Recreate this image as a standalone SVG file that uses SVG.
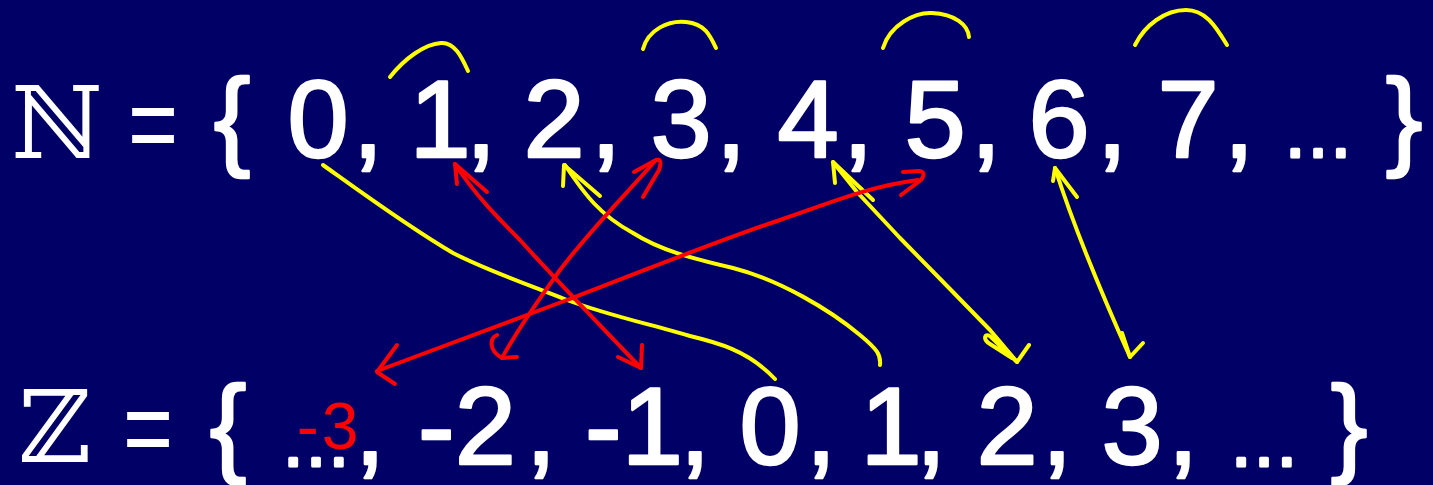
<svg xmlns="http://www.w3.org/2000/svg" width="1433" height="485" viewBox="0 0 1433 485">
<style>
.t{font-family:"Liberation Sans","DejaVu Sans",sans-serif;font-size:110px;fill:#fff;stroke:#fff;stroke-width:2.5;stroke-linejoin:round;text-anchor:middle}
.el{font-size:72px;stroke-width:3}
.eq{stroke-width:0}
.bb{font-family:"DejaVu Serif","DejaVu Sans",serif;font-size:100px;fill:#fff;text-anchor:middle}
.y{fill:none;stroke:#ffff00;stroke-width:4;stroke-linecap:round;stroke-linejoin:round}
.r{fill:none;stroke:#ff0000;stroke-width:4;stroke-linecap:round;stroke-linejoin:round}
.rt{font-family:"Liberation Sans","DejaVu Sans",sans-serif;font-size:66px;fill:#ff0000;letter-spacing:3px;text-anchor:middle}
</style>
<rect width="1433" height="485" fill="#000066"/>
<g id="row-N">
<text class="bb" x="57" y="158">ℕ</text>
<text class="t eq" transform="translate(153,0) scale(0.78,1)" x="0" y="161">=</text>
<text class="t" x="232" y="155">{</text>
<g id="n0"><text class="t" x="318" y="157">0</text></g>
<text class="t" x="368" y="157">,</text>
<g id="n1"><text class="t" x="440" y="157">1</text></g>
<text class="t" x="481" y="157">,</text>
<g id="n2"><text class="t" x="554" y="157">2</text></g>
<text class="t" x="606" y="157">,</text>
<g id="n3"><text class="t" x="681" y="157">3</text></g>
<text class="t" x="731" y="157">,</text>
<g id="n4"><text class="t" x="808" y="157">4</text></g>
<text class="t" x="858" y="157">,</text>
<g id="n5"><text class="t" x="935" y="157">5</text></g>
<text class="t" x="986" y="157">,</text>
<g id="n6"><text class="t" x="1059" y="157">6</text></g>
<text class="t" x="1112" y="157">,</text>
<g id="n7"><text class="t" x="1188" y="157">7</text></g>
<text class="t" x="1239" y="157">,</text>
<text class="t el" x="1318" y="157">…</text>
<text class="t" x="1404" y="155">}</text>
</g>
<g id="row-Z">
<text class="bb" x="55" y="462">ℤ</text>
<text class="t eq" transform="translate(148,0) scale(0.78,1)" x="0" y="465">=</text>
<text class="t" x="228" y="462">{</text>
<text class="t el" x="316" y="466">…</text>
<text class="t" x="370" y="464">,</text>
<g id="zm2"><text class="t" x="467" y="464">-2</text></g>
<text class="t" x="541" y="464">,</text>
<g id="zm1"><text class="t" x="634" y="464">-1</text></g>
<text class="t" x="695" y="464">,</text>
<g id="z0"><text class="t" x="770" y="464">0</text></g>
<text class="t" x="821" y="464">,</text>
<g id="z1"><text class="t" x="891" y="464">1</text></g>
<text class="t" x="931" y="464">,</text>
<g id="z2"><text class="t" x="1007" y="464">2</text></g>
<text class="t" x="1057" y="464">,</text>
<g id="z3"><text class="t" x="1132" y="464">3</text></g>
<text class="t" x="1183" y="464">,</text>
<text class="t el" x="1264" y="466">…</text>
<text class="t" x="1349" y="462">}</text>
</g>
<g id="annotation-m3"><text class="rt" x="329" y="449">-3</text></g>
<g id="arcs">
<path class="y" d="M390,77 C405,58 425,44 441,43 C455,42 462,58 468,71"/>
<path class="y" d="M643,49 C648,30 668,20 686,22 C705,24 710,35 716,48"/>
<path class="y" d="M883,48 C890,25 915,12 932,13 C955,14 968,25 969,37"/>
<path class="y" d="M1135,45 C1145,25 1165,10 1186,10 C1205,10 1215,25 1227,45"/>
</g>
<g id="connectors">
<path class="y" d="M323,165 C365,195 410,228 453,253 C490,272 530,285 567,300 C610,316 650,324 690,336 C715,342 748,350 775,379"/>
<path class="y" d="M565,165 C585,195 600,215 633,233 C660,250 690,258 733,268 C780,280 830,310 860,335 C878,350 881,355 880,365"/>
<path class="y" d="M563,186 L564,165 L600,196"/>
<path class="y" d="M833,162 L857,192 L900,238 L950,289 L990,330 L1017,362"/>
<path class="y" d="M835,183 L833,162 L873,200"/>
<path class="y" d="M1029,345 L1017,362 L991,337 C985,332 982,339 990,344 L1012,358"/>
<path class="y" d="M1055,168 C1070,215 1100,290 1130,357"/>
<path class="y" d="M1053,181 L1055,168 L1077,197"/>
<path class="y" d="M1122,333 L1130,357 L1143,343"/>
<path class="r" d="M455,164 C475,195 500,220 520,240 C545,268 590,315 641,368"/>
<path class="r" d="M457,184 L455,164 L487,192"/>
<path class="r" d="M642,345 L641,368 L618,357"/>
<path class="r" d="M655,161 C630,190 590,230 560,270 C540,298 520,325 502,358"/>
<path class="r" d="M634,172 L656,160 Q663,158 659,170 L643,197"/>
<path class="r" d="M497,335 C490,338 488,350 502,358 L517,357"/>
<path class="r" d="M377,371 L567,300 C650,268 720,240 780,220 C830,203 870,186 918,180"/>
<path class="r" d="M903,172 L919,171 Q927,172 921,180 L901,195"/>
<path class="r" d="M397,345 L377,372 L395,384"/>
</g>
</svg>
